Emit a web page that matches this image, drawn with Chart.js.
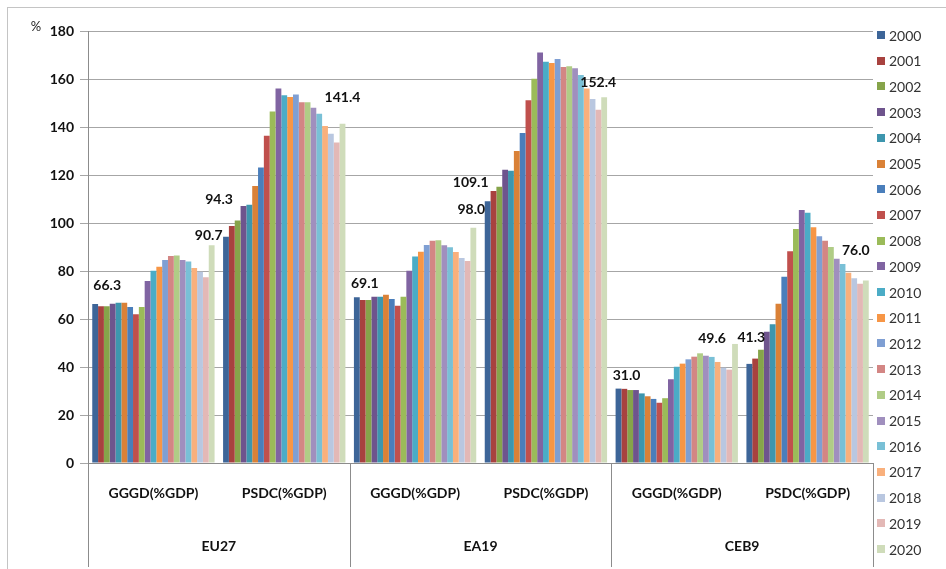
<!DOCTYPE html>
<html>
<head>
<meta charset="utf-8">
<script src="https://cdn.jsdelivr.net/npm/chart.js@4/dist/chart.umd.min.js"></script>
<style>
  html, body { margin: 0; padding: 0; background: #fff; }
  #wrap { width: 946px; height: 569px; }
</style>
</head>
<body>
<div id="wrap"><canvas id="c" width="946" height="569"></canvas></div>
<script>
// Years (one bar series each) and the two-level category axis
const years = ['2000','2001','2002','2003','2004','2005','2006','2007','2008','2009','2010',
               '2011','2012','2013','2014','2015','2016','2017','2018','2019','2020'];
const measures = ['GGGD(%GDP)','PSDC(%GDP)','GGGD(%GDP)','PSDC(%GDP)','GGGD(%GDP)','PSDC(%GDP)'];
const regions = ['EU27','EA19','CEB9'];

// Values in % of GDP, 2000..2020, one array per region/measure
const eu27Gggd = [66.3, 65.3, 65.3, 66.4, 66.8, 66.8, 65.0, 62.0, 65.0, 75.8, 80.1, 81.8, 84.6, 86.3, 86.5, 84.6, 84.0, 81.2, 79.7, 77.4, 90.7];
const eu27Psdc = [94.3, 98.8, 101.0, 107.1, 107.6, 115.4, 123.1, 136.4, 146.5, 156.0, 153.2, 152.5, 153.5, 150.3, 150.3, 148.0, 145.5, 140.4, 137.2, 133.5, 141.4];
const ea19Gggd = [69.1, 67.9, 67.9, 69.3, 69.3, 70.1, 68.3, 65.5, 69.3, 80.1, 86.0, 88.0, 90.8, 92.6, 92.8, 90.7, 89.9, 87.9, 85.4, 84.2, 98.0];
const ea19Psdc = [109.1, 113.3, 115.1, 122.2, 121.8, 130.0, 137.5, 151.1, 160.1, 171.0, 167.2, 166.7, 168.3, 165.0, 165.3, 164.5, 161.7, 156.0, 151.7, 147.2, 152.4];
const ceb9Gggd = [31.0, 30.9, 30.4, 30.4, 29.0, 27.8, 26.7, 25.1, 27.0, 34.9, 40.1, 41.4, 43.2, 44.3, 45.7, 44.7, 44.2, 42.1, 39.7, 38.9, 49.6];
const ceb9Psdc = [41.3, 43.5, 47.2, 54.7, 57.8, 66.4, 77.6, 88.2, 97.5, 105.4, 104.3, 98.2, 94.5, 92.6, 90.0, 85.1, 82.9, 79.3, 77.0, 74.7, 76.0];

// Y axis ticks
const yMin = 0, yMax = 180, yStep = 20;

// One colour per year
const yearColors = ['#3d6598','#a8423f','#86a44a','#6e548d','#3d96ae','#da8137','#4a7ebb','#c0504d',
                    '#9bbb59','#8064a2','#4bacc6','#f79646','#7f9fd3','#d38684','#b0cc86','#a08fbe',
                    '#79c0d6','#f9b07c','#b9c7e0','#e3b8b6','#cfdcba'];

const FONT = 'Lato, "Open Sans", sans-serif';

const series = [eu27Gggd, eu27Psdc, ea19Gggd, ea19Psdc, ceb9Gggd, ceb9Psdc];
const datasets = years.map((yr, i) => ({
  label: yr,
  data: series.map(s => s[i]),
  backgroundColor: yearColors[i],
  borderWidth: 0,
  categoryPercentage: 0.935,
  barPercentage: 1.0
}));

// Hand-placed value labels on the first and last year of each category (pixel nudges)
const firstNudge = [[12,-18],[-7,-37],[8,-14],[-17,-19],[8,-13],[2,-26]];
const lastNudge  = [[-3,-10],[0,-26],[-2,-18],[-6,-15],[-23,-5],[-10,-30]];

const framePlugin = {
  id: 'frame',
  beforeDraw(chart) {
    const ctx = chart.ctx;
    ctx.save();
    ctx.fillStyle = '#ffffff';
    ctx.fillRect(0, 0, chart.width, chart.height);
    ctx.strokeStyle = '#c4c4c4';
    ctx.lineWidth = 1;
    ctx.strokeRect(7.5, 7.5, chart.width + 10, chart.height + 10);
    ctx.restore();
  }
};

const axisExtrasPlugin = {
  id: 'axisExtras',
  afterDraw(chart) {
    const ctx = chart.ctx;
    const xs = chart.scales.x;
    const area = chart.chartArea;
    const bottom = 567;
    ctx.save();
    ctx.strokeStyle = '#8c8c8c';
    ctx.lineWidth = 1;
    // region separators below the axis
    const bounds = [area.left];
    for (let r = 1; r < regions.length; r++) {
      bounds.push((xs.getPixelForValue(2 * r - 1) + xs.getPixelForValue(2 * r)) / 2);
    }
    bounds.push(area.right);
    bounds.forEach(b => {
      const x = Math.round(b) + 0.5;
      ctx.beginPath();
      ctx.moveTo(x, area.bottom);
      ctx.lineTo(x, bottom);
      ctx.stroke();
    });
    // region names
    ctx.fillStyle = '#111';
    ctx.font = 'bold 14px ' + FONT;
    ctx.textAlign = 'center';
    ctx.textBaseline = 'middle';
    regions.forEach((name, r) => {
      const cx = (xs.getPixelForValue(2 * r) + xs.getPixelForValue(2 * r + 1)) / 2;
      ctx.fillText(name, cx, 546);
    });
    // unit mark
    ctx.font = '13px ' + FONT;
    ctx.fillStyle = '#222';
    ctx.fillText('%', 36, 27);

    // value labels
    ctx.font = 'bold 14px ' + FONT;
    ctx.fillStyle = '#111';
    const drawLabels = (dsIndex, nudges) => {
      const meta = chart.getDatasetMeta(dsIndex);
      meta.data.forEach((bar, j) => {
        const v = chart.data.datasets[dsIndex].data[j];
        ctx.fillText(v.toFixed(1), bar.x + nudges[j][0], bar.y + nudges[j][1]);
      });
    };
    drawLabels(0, firstNudge);
    drawLabels(years.length - 1, lastNudge);

    // legend
    const lx = area.right + 4;
    const top = 35, rowH = (549 - 35) / 20;
    ctx.font = '14px ' + FONT;
    ctx.textAlign = 'left';
    chart.data.datasets.forEach((ds, i) => {
      const cy = top + i * rowH;
      ctx.fillStyle = ds.backgroundColor;
      ctx.fillRect(lx, Math.round(cy - 4), 8, 8);
      ctx.fillStyle = '#333';
      ctx.fillText(ds.label, lx + 12, cy + 1);
    });
    ctx.restore();
  }
};

new Chart(document.getElementById('c'), {
  type: 'bar',
  data: { labels: measures, datasets },
  options: {
    responsive: false,
    animation: false,
    devicePixelRatio: 1,
    layout: { padding: { top: 31, right: 73, bottom: 0, left: 0 } },
    plugins: {
      legend: { display: false },
      tooltip: { enabled: false }
    },
    scales: {
      x: {
        grid: { display: true, drawOnChartArea: false, drawTicks: false },
        border: { display: true, color: '#8c8c8c' },
        ticks: { color: '#111', font: { family: FONT, size: 14, weight: 'bold' }, padding: 22, maxRotation: 0 },
        afterFit: s => { s.height = 106; }
      },
      y: {
        min: yMin, max: yMax,
        grid: { color: '#a6a6a6', tickLength: 8 },
        border: { display: true, color: '#8c8c8c' },
        ticks: { stepSize: yStep, color: '#111', font: { family: FONT, size: 14, weight: 'bold' }, padding: 6 },
        afterFit: s => { s.width = 88; }
      }
    }
  },
  plugins: [framePlugin, axisExtrasPlugin]
});
</script>
</body>
</html>
